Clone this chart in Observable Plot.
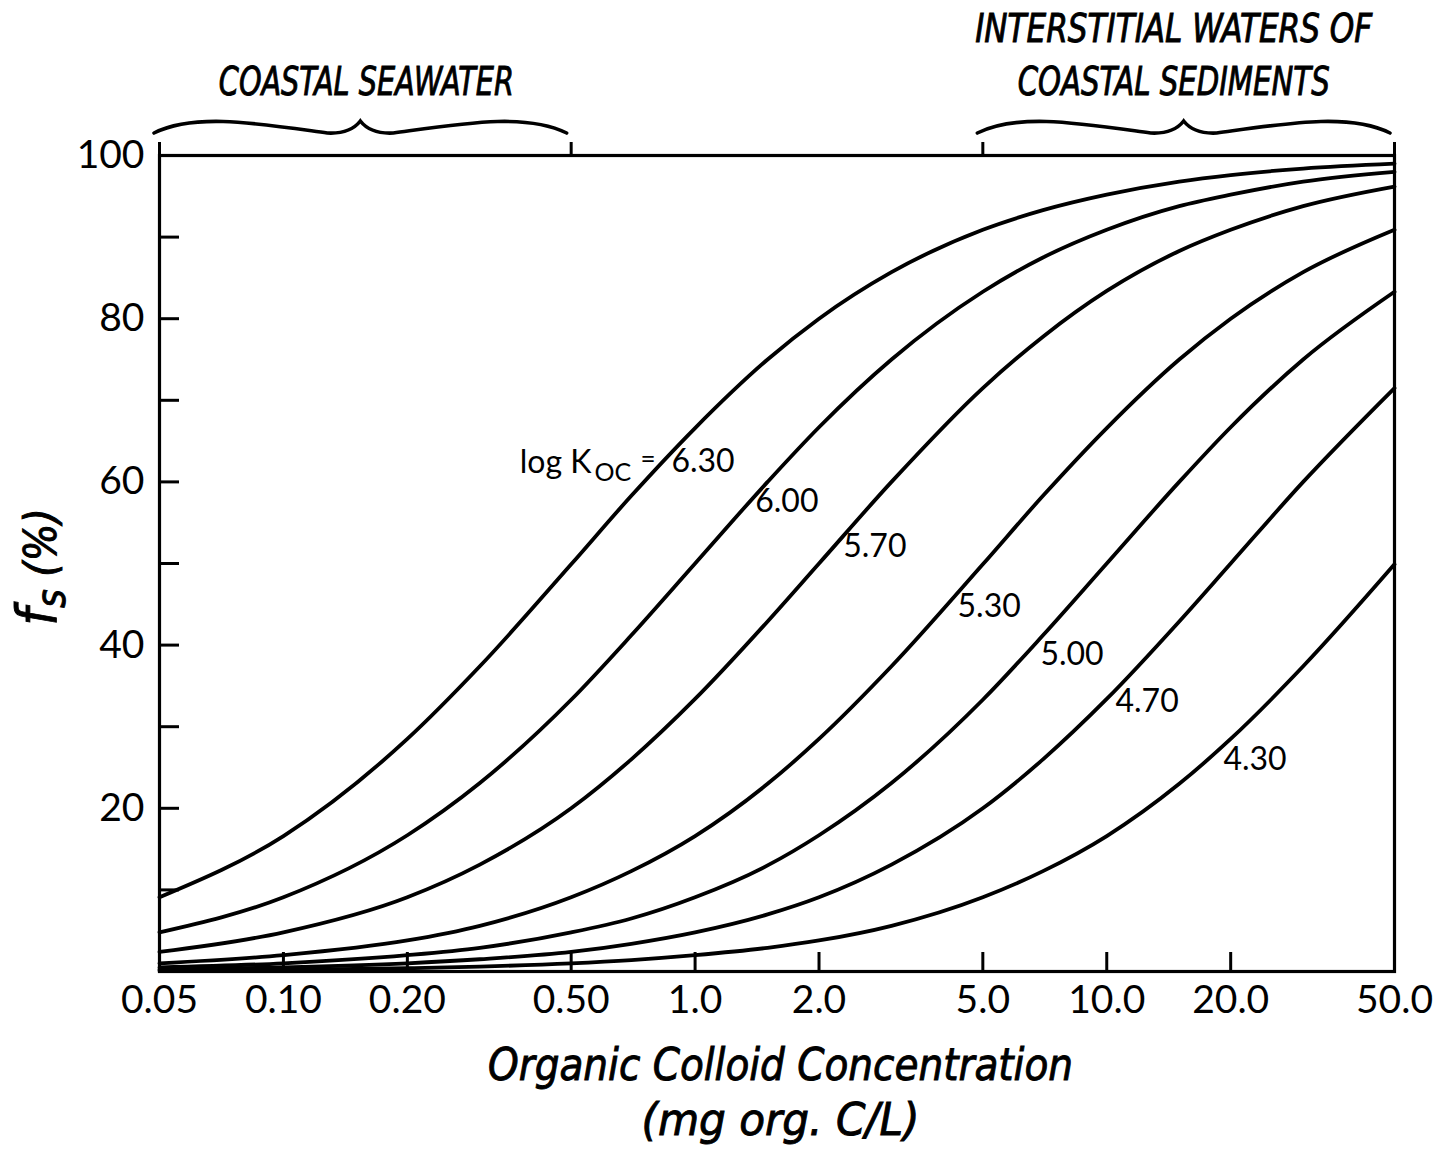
<!DOCTYPE html>
<html>
<head>
<meta charset="utf-8">
<script src="https://cdn.jsdelivr.net/npm/d3@7"></script>
<script src="https://cdn.jsdelivr.net/npm/@observablehq/plot@0.6"></script>
<style>
  html, body { margin: 0; padding: 0; background: #fff; }
  #chart svg { display: block; }
</style>
</head>
<body>
<div id="chart"></div>
<script>
// ---------------- DATA ----------------
const concentration = [0.05, 0.1, 0.2, 0.3, 0.5, 0.7, 1, 1.5, 2, 3, 5, 7, 10, 15, 20, 30, 50];
const logKoc = ["6.30", "6.00", "5.70", "5.30", "5.00", "4.70", "4.30"];
const fs630 = [9.1, 16.6, 28.5, 37.4, 49.9, 58.3, 66.6, 75.0, 80.0, 85.7, 90.9, 93.3, 95.2, 96.8, 97.6, 98.4, 99.0];
const fs600 = [4.8, 9.1, 16.7, 23.1, 33.3, 41.2, 50.0, 60.0, 66.7, 75.0, 83.3, 87.5, 90.9, 93.8, 95.2, 96.8, 98.0];
const fs570 = [2.4, 4.8, 9.1, 13.1, 20.0, 26.0, 33.4, 42.9, 50.0, 60.0, 71.5, 77.8, 83.4, 88.3, 90.9, 93.8, 96.2];
const fs530 = [1.0, 2.0, 3.8, 5.6, 9.1, 12.3, 16.6, 23.0, 28.5, 37.4, 49.9, 58.3, 66.6, 75.0, 80.0, 85.7, 90.9];
const fs500 = [0.5, 1.0, 2.0, 2.9, 4.8, 6.5, 9.1, 13.0, 16.7, 23.1, 33.3, 41.2, 50.0, 60.0, 66.7, 75.0, 83.3];
const fs470 = [0.25, 0.5, 1.0, 1.5, 2.4, 3.4, 4.8, 7.0, 9.1, 13.1, 20.0, 26.0, 33.4, 42.9, 50.0, 60.0, 71.5];
const fs430 = [0.1, 0.2, 0.4, 0.6, 1.0, 1.4, 2.0, 2.9, 3.8, 5.6, 9.1, 12.3, 16.6, 23.0, 28.5, 37.4, 49.9];

// label anchor points (data units) for each curve's label
const labelConc = [0.876, 1.40, 2.29, 4.34, 6.90, 10.5, 19.2];
const labelFs = [62.5, 57.6, 52.1, 44.7, 38.8, 33.1, 26.0];
const kocPrefix = ["log K", "OC", "="];

// axes
const xTickValues = [0.05, 0.1, 0.2, 0.5, 1, 2, 5, 10, 20, 50];
const xTickLabels = ["0.05", "0.10", "0.20", "0.50", "1.0", "2.0", "5.0", "10.0", "20.0", "50.0"];
const xInnerTicks = [0.1, 0.2, 0.5, 1, 2, 5, 10, 20];
const xTopTicks = [0.05, 0.5, 5, 50];
const yTickValues = [20, 40, 60, 80, 100];
const yInnerTicks = [10, 20, 30, 40, 50, 60, 70, 80, 90];

// regions marked with braces above the plot
const regionFrom = [0.05, 5];
const regionTo = [0.5, 50];
const regionLines = [["COASTAL SEAWATER"], ["INTERSTITIAL WATERS OF", "COASTAL SEDIMENTS"]];

const xTitle = ["Organic Colloid Concentration", "(mg org. C/L)"];
const yTitle = ["f", "s", " (%)"];

// ---------------- LAYOUT / STYLE ----------------
const W = 1443, H = 1156;
const mL = 159, mR = 49, mT = 155, mB = 185;
const frameW = W - mL - mR, frameH = H - mT - mB;
const tickFont = "Lato, 'Noto Sans', sans-serif";
const handFont = "'Liberation Sans Narrow', 'DejaVu Sans Condensed', 'Liberation Sans', sans-serif";
const regionTextLen = [[295], [397, 312]];
const xTitleLen = [585, 278];

const series = [fs630, fs600, fs570, fs530, fs500, fs470, fs430];
const curves = logKoc.flatMap((k, i) => concentration.map((c, j) => ({k, c, f: series[i][j]})));
const curveLabels = logKoc.map((k, i) => ({k, c: labelConc[i], f: labelFs[i]}));

function bracePath(x1, x2, y0, h) {
  const m = (x1 + x2) / 2, L = m - x1;
  return `M${x1},${y0} C${x1 + 0.2 * L},${y0 - 1.7 * h} ${x1 + 0.5 * L},${y0 - 0.8 * h} ${m - 0.16 * L},${y0}` +
    ` Q${m - 0.05 * L},${y0 + 0.1 * h} ${m},${y0 - h}` +
    ` Q${m + 0.05 * L},${y0 + 0.1 * h} ${m + 0.16 * L},${y0}` +
    ` C${x2 - 0.5 * L},${y0 - 0.8 * h} ${x2 - 0.2 * L},${y0 - 1.7 * h} ${x2},${y0}`;
}

function handText(sel) {
  return sel.attr("font-family", handFont).attr("font-style", "italic")
    .attr("fill", "black").attr("stroke", "black").attr("stroke-width", 0.9);
}

function annotations(index, scales, values, dims) {
  const g = d3.create("svg:g");
  // braces + region labels
  regionFrom.forEach((from, i) => {
    const x1 = scales.x(from) - 5, x2 = scales.x(regionTo[i]) - 4;
    const y0 = dims.marginTop - 22;
    g.append("path").attr("d", bracePath(x1, x2, y0, 12))
      .attr("fill", "none").attr("stroke", "black").attr("stroke-width", 3.6).attr("stroke-linecap", "round");
    const lines = regionLines[i];
    lines.forEach((t, j) => {
      handText(g.append("text"))
        .attr("x", (x1 + x2) / 2 + (i === 0 ? 6 : -10))
        .attr("y", y0 - 38 - (lines.length - 1 - j) * 53)
        .attr("text-anchor", "middle")
        .attr("font-size", 39)
        .attr("textLength", regionTextLen[i][j]).attr("lengthAdjust", "spacingAndGlyphs")
        .text(t);
    });
  });
  // x-axis title
  const cx = dims.marginLeft + (dims.width - dims.marginLeft - dims.marginRight) / 2 + 4;
  xTitle.forEach((t, j) => {
    handText(g.append("text"))
      .attr("x", cx).attr("y", dims.height - dims.marginBottom + 109 + j * 55)
      .attr("text-anchor", "middle")
      .attr("font-size", 45)
      .attr("textLength", xTitleLen[j]).attr("lengthAdjust", "spacingAndGlyphs")
      .text(t);
  });
  // y-axis title (rotated)
  const cy = dims.marginTop + (dims.height - dims.marginTop - dims.marginBottom) / 2 + 4;
  const yt = handText(g.append("text"))
    .attr("transform", `translate(56,${cy}) rotate(-90)`)
    .attr("text-anchor", "middle");
  yt.append("tspan").attr("font-size", 56).text(yTitle[0]);
  yt.append("tspan").attr("font-size", 40).attr("dy", 9).text(yTitle[1]);
  yt.append("tspan").attr("font-size", 44).attr("dy", -9).text(yTitle[2]);
  return g.node();
}

const chart = Plot.plot({
  width: W,
  height: H,
  marginLeft: mL,
  marginRight: mR,
  marginTop: mT,
  marginBottom: mB,
  style: {fontFamily: tickFont, color: "black", background: "white"},
  x: {type: "log", domain: [0.05, 50]},
  y: {domain: [0, 100]},
  marks: [
    Plot.line(curves, {x: "c", y: "f", z: "k", curve: "monotone-x", stroke: "black", strokeWidth: 3.8}),
    Plot.frame({stroke: "black", strokeWidth: 3.2}),
    // inward ticks
    Plot.tickY(yInnerTicks, {y: d => d, stroke: "black", strokeWidth: 3, insetRight: frameW - 20}),
    Plot.tickX(xInnerTicks, {x: d => d, stroke: "black", strokeWidth: 3, insetTop: frameH - 19}),
    // outward ticks on top
    Plot.tickX(xTopTicks, {x: d => d, stroke: "black", strokeWidth: 3, insetTop: -13, insetBottom: frameH}),
    Plot.axisY(yTickValues, {tickSize: 0, tickPadding: 15, fontSize: 39, label: null, tickFormat: d => String(d)}),
    Plot.axisX(xTickValues, {tickSize: 0, tickPadding: 14, fontSize: 39, label: null,
      tickFormat: d => xTickLabels[xTickValues.indexOf(d)]}),
    // curve labels
    Plot.text(curveLabels, {x: "c", y: "f", text: "k", textAnchor: "start", fontSize: 32, fill: "black"}),
    Plot.text([curveLabels[0]], {x: "c", y: "f", text: () => kocPrefix[0], textAnchor: "end", dx: -80, dy: 1, fontSize: 32, fill: "black"}),
    Plot.text([curveLabels[0]], {x: "c", y: "f", text: () => kocPrefix[1], textAnchor: "start", dx: -77, dy: 11, fontSize: 25, fill: "black"}),
    Plot.text([curveLabels[0]], {x: "c", y: "f", text: () => kocPrefix[2], textAnchor: "start", dx: -31, dy: -2, fontSize: 26, fill: "black"}),
    annotations
  ]
});

document.getElementById("chart").appendChild(chart);
</script>
</body>
</html>
